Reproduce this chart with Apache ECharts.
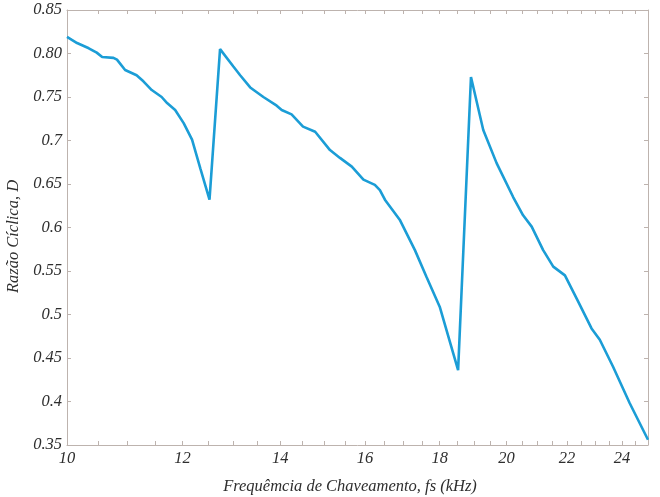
<!DOCTYPE html>
<html>
<head>
<meta charset="utf-8">
<script src="https://cdn.jsdelivr.net/npm/echarts@6/dist/echarts.min.js"></script>
<style>html,body{margin:0;padding:0;background:#fff}#c{width:660px;height:497px}</style>
</head>
<body>
<div id="c"></div>
<script>
const freq = [10.0,10.16,10.35,10.48,10.57,10.76,10.82,10.96,11.16,11.28,11.43,11.61,11.71,11.86,12.02,12.18,12.34,12.52,
  12.73,13.0,13.14,13.35,13.63,13.92,14.03,14.25,14.51,14.79,15.14,15.38,15.67,15.96,16.25,16.38,16.51,16.9,17.31,17.63,18.0,18.53,
  18.91,19.28,19.69,20.21,20.53,20.81,21.19,21.53,21.93,22.39,22.87,23.17,23.66,24.29,25.0];
const duty = [0.819,0.812,0.806,0.801,0.796,0.795,0.793,0.781,0.775,0.768,0.758,0.750,0.743,0.735,0.720,0.701,0.668,0.632,
  0.805,0.785,0.775,0.761,0.750,0.740,0.735,0.730,0.716,0.710,0.689,0.680,0.670,0.655,0.649,0.643,0.632,0.609,0.574,0.543,0.509,0.436,
  0.773,0.712,0.674,0.635,0.614,0.601,0.574,0.555,0.545,0.515,0.484,0.471,0.440,0.398,0.356];
const xTickLabels = [10,12,14,16,18,20,22,24];
const xMinorTicks = [10,10.5,11,11.5,12,12.5,13,13.5,14,14.5,15,15.5,16,16.5,17,17.5,18,18.5,19,19.5,20,20.5,21,21.5,22,22.5,23,23.5,24,24.5,25];
const yTickLabels = {'0.85':'0.85','0.8':'0.80','0.75':'0.75','0.7':'0.7','0.65':'0.65','0.6':'0.6','0.55':'0.55','0.5':'0.5','0.45':'0.45','0.4':'0.4','0.35':'0.35'};

const axisCol = '#bdb3ae';
const font = {fontFamily:'Liberation Serif', fontStyle:'italic', fontSize:16.5, color:'#2e2e2e'};
const chart = echarts.init(document.getElementById('c'), null, {renderer:'canvas'});
const xBase = {
  type:'log', logBase:10, min:10, max:25,
  axisLine:{show:true, onZero:false, lineStyle:{color:axisCol, width:1}},
  axisTick:{show:true, inside:true, length:4, customValues:xMinorTicks, lineStyle:{color:axisCol}},
  minorTick:{show:false}, splitLine:{show:false}
};
const yBase = {
  type:'value', min:0.35, max:0.85, interval:0.05,
  axisLine:{show:true, onZero:false, lineStyle:{color:axisCol, width:1}},
  axisTick:{show:true, inside:true, length:4, lineStyle:{color:axisCol}},
  splitLine:{show:false}
};
chart.setOption({
  animation:false,
  backgroundColor:'#fff',
  grid:{left:67, right:12, top:10, bottom:52, containLabel:false, outerBoundsMode:'none'},
  xAxis:[
    Object.assign({}, xBase, {position:'bottom',
      name:'Frequêmcia de Chaveamento, fs (kHz)', nameLocation:'middle', nameGap:33,
      nameTextStyle:Object.assign({}, font, {fontSize:16.5, padding:[0,15,0,0]}),
      axisLabel:Object.assign({show:true, customValues:xTickLabels, margin:5, formatter:v=>String(Math.round(v))}, font)}),
    Object.assign({}, xBase, {position:'top', axisLabel:{show:false}})
  ],
  yAxis:[
    Object.assign({}, yBase, {position:'left',
      name:'Razão Cíclica, D', nameLocation:'middle', nameGap:41,
      nameTextStyle:Object.assign({}, font, {fontSize:16.5, padding:[0,18,0,0]}),
      axisLabel:Object.assign({show:true, margin:5, padding:[4,0,0,0], formatter:v=>yTickLabels[String(+v.toFixed(2))]||v}, font)}),
    Object.assign({}, yBase, {position:'right', axisLabel:{show:false}})
  ],
  series:[{
    type:'line', xAxisIndex:0, yAxisIndex:0,
    data:freq.map((f,i)=>[f,duty[i]]),
    showSymbol:false, smooth:false,
    lineStyle:{color:'#1b9dd6', width:2.6},
    clip:true
  }]
});
</script>
</body>
</html>
